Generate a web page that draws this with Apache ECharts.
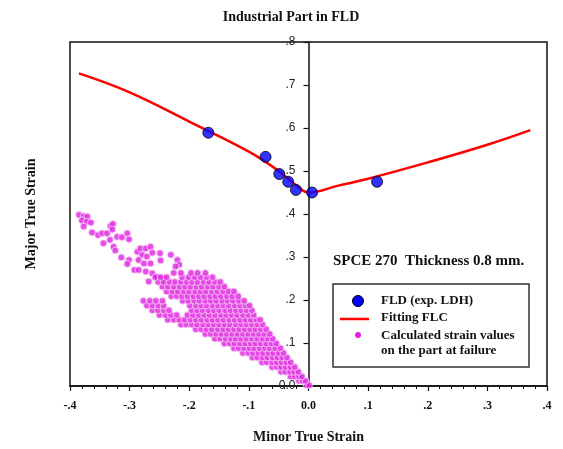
<!DOCTYPE html>
<html>
<head>
<meta charset="utf-8">
<script src="https://cdn.jsdelivr.net/npm/echarts@6/dist/echarts.min.js"></script>
<style>
  html, body { margin: 0; padding: 0; background: #fff; }
  #chart-container { width: 563px; height: 449px; }
</style>
</head>
<body>
<div id="chart-container"></div>
<script>
// ---------- data ----------
var xTicks = ['-.4', '-.3', '-.2', '-.1', '0.0', '.1', '.2', '.3', '.4'];
var yTicks = ['0.0', '.1', '.2', '.3', '.4', '.5', '.6', '.7', '.8'];

// FLD (exp. LDH) points
var ldhMinor = [-0.168, -0.072, -0.049, -0.034, -0.021, 0.006, 0.115];
var ldhMajor = [0.589, 0.533, 0.493, 0.475, 0.456, 0.450, 0.475];

// Fitting FLC curve
var flcMinor = [-0.385, -0.300, -0.200, -0.100, -0.050, -0.020, 0.000, 0.050, 0.100, 0.200, 0.300, 0.372];
var flcMajor = [0.727, 0.683, 0.615, 0.545, 0.500, 0.466, 0.450, 0.466, 0.482, 0.520, 0.561, 0.595];

// calculated strain values: sparse upper-left tail [minor, major]
var cloudTail = [
    [-0.385, 0.398], [-0.377, 0.395], [-0.371, 0.394], [-0.380, 0.385], [-0.372, 0.382],
    [-0.365, 0.380], [-0.377, 0.371], [-0.363, 0.357], [-0.353, 0.351], [-0.346, 0.355],
    [-0.338, 0.355], [-0.332, 0.372], [-0.328, 0.377], [-0.329, 0.364], [-0.344, 0.332],
    [-0.333, 0.340], [-0.321, 0.347], [-0.313, 0.346], [-0.304, 0.355], [-0.301, 0.341],
    [-0.327, 0.324], [-0.324, 0.315], [-0.314, 0.299], [-0.301, 0.293], [-0.292, 0.270],
    [-0.304, 0.284], [-0.287, 0.312], [-0.282, 0.320], [-0.273, 0.320], [-0.265, 0.324],
    [-0.279, 0.305], [-0.271, 0.301], [-0.262, 0.310], [-0.285, 0.293], [-0.276, 0.285],
    [-0.265, 0.285], [-0.248, 0.292], [-0.249, 0.309], [-0.231, 0.305], [-0.220, 0.293],
    [-0.217, 0.282], [-0.223, 0.278], [-0.285, 0.270], [-0.273, 0.266], [-0.262, 0.262],
    [-0.254, 0.254], [-0.243, 0.250], [-0.268, 0.243]
];

// calculated strain values: dense body, one row per major strain level
var cloudRows = [
    [0.002, [-0.003, 0.001]],
    [0.012, [-0.016, -0.010, -0.005]],
    [0.022, [-0.030, -0.023, -0.016, -0.011]],
    [0.033, [-0.046, -0.039, -0.031, -0.024, -0.017]],
    [0.044, [-0.061, -0.053, -0.046, -0.038, -0.030, -0.023]],
    [0.055, [-0.078, -0.070, -0.061, -0.053, -0.045, -0.037, -0.030]],
    [0.066, [-0.094, -0.086, -0.077, -0.069, -0.060, -0.052, -0.044, -0.036]],
    [0.077, [-0.110, -0.101, -0.093, -0.084, -0.076, -0.067, -0.059, -0.050, -0.042]],
    [0.088, [-0.125, -0.117, -0.108, -0.099, -0.091, -0.082, -0.073, -0.065, -0.056, -0.047]],
    [0.099, [-0.141, -0.132, -0.124, -0.115, -0.106, -0.097, -0.089, -0.080, -0.071, -0.062, -0.054]],
    [0.110, [-0.157, -0.148, -0.139, -0.130, -0.122, -0.113, -0.104, -0.095, -0.086, -0.077, -0.068, -0.060]],
    [0.121, [-0.173, -0.164, -0.155, -0.146, -0.137, -0.128, -0.119, -0.110, -0.101, -0.092, -0.083, -0.074, -0.065]],
    [0.132, [-0.189, -0.180, -0.171, -0.162, -0.152, -0.143, -0.134, -0.125, -0.116, -0.107, -0.098, -0.089, -0.080, -0.071]],
    [0.143, [-0.214, -0.205, -0.196, -0.187, -0.177, -0.168, -0.159, -0.150, -0.141, -0.132, -0.122, -0.113, -0.104, -0.095, -0.086, -0.077]],
    [0.154, [-0.236, -0.226, -0.217, -0.208, -0.198, -0.189, -0.180, -0.170, -0.161, -0.152, -0.143, -0.133, -0.124, -0.115, -0.106, -0.097, -0.088, -0.081]],
    [0.165, [-0.250, -0.240, -0.231, -0.221, -0.203, -0.194, -0.184, -0.175, -0.166, -0.157, -0.147, -0.138, -0.129, -0.120, -0.110, -0.101, -0.092]],
    [0.176, [-0.262, -0.253, -0.243, -0.234, -0.196, -0.187, -0.178, -0.168, -0.159, -0.150, -0.140, -0.131, -0.122, -0.113, -0.104, -0.095]],
    [0.187, [-0.271, -0.262, -0.252, -0.243, -0.199, -0.189, -0.180, -0.171, -0.161, -0.152, -0.143, -0.134, -0.124, -0.115, -0.106, -0.099]],
    [0.198, [-0.277, -0.266, -0.256, -0.245, -0.211, -0.202, -0.192, -0.183, -0.173, -0.164, -0.155, -0.145, -0.136, -0.127, -0.117, -0.108]],
    [0.209, [-0.230, -0.221, -0.212, -0.203, -0.193, -0.184, -0.175, -0.165, -0.156, -0.147, -0.137, -0.128, -0.118]],
    [0.220, [-0.238, -0.228, -0.219, -0.209, -0.200, -0.190, -0.181, -0.172, -0.162, -0.153, -0.143, -0.134, -0.125]],
    [0.231, [-0.245, -0.236, -0.226, -0.216, -0.207, -0.198, -0.188, -0.179, -0.169, -0.160, -0.150, -0.141]],
    [0.242, [-0.252, -0.243, -0.233, -0.224, -0.214, -0.204, -0.195, -0.186, -0.176, -0.167, -0.157, -0.148]],
    [0.253, [-0.257, -0.248, -0.238, -0.212, -0.201, -0.191, -0.181, -0.171, -0.161]],
    [0.263, [-0.226, -0.214, -0.197, -0.186, -0.173]]
];

// ---------- build series data ----------
var ldhData = ldhMinor.map(function (x, i) { return [x, ldhMajor[i]]; });
var flcData = flcMinor.map(function (x, i) { return [x, flcMajor[i]]; });
var cloudData = cloudTail.slice();
cloudRows.forEach(function (row) {
    row[1].forEach(function (x) { cloudData.push([x, row[0]]); });
});

var serif = 'Liberation Serif';
function tickText(list, min) {
    return function (v) { return list[Math.round((v - min) * 10)]; };
}

var chart = echarts.init(document.getElementById('chart-container'));
var options = {
    animation: false,
    backgroundColor: '#fff',
    title: {
        text: 'Industrial Part in FLD',
        left: 286, top: 5, textAlign: 'center',
        textStyle: { fontFamily: serif, fontWeight: 'bold', fontSize: 14, color: '#111' }
    },
    grid: {
        left: 70, right: 16, top: 42, bottom: 62,
        show: true, borderColor: '#111', borderWidth: 1.5, backgroundColor: 'transparent'
    },
    xAxis: {
        type: 'value', min: -0.4, max: 0.4, interval: 0.1,
        name: 'Minor True Strain', nameLocation: 'middle', nameGap: 44,
        nameTextStyle: { fontFamily: serif, fontWeight: 'bold', fontSize: 14, color: '#111' },
        axisLine: { onZero: false, lineStyle: { color: '#111', width: 1.5 } },
        axisTick: { length: 5, lineStyle: { color: '#111', width: 1.2 } },
        minorTick: { show: true, splitNumber: 5, length: 3, lineStyle: { color: '#111', width: 1 } },
        splitLine: { show: false },
        axisLabel: {
            formatter: tickText(xTicks, -0.4), margin: 14,
            fontFamily: serif, fontWeight: 'bold', fontSize: 12, color: '#111'
        }
    },
    yAxis: {
        type: 'value', min: 0, max: 0.8, interval: 0.1,
        position: 'left', offset: -238.5, // y axis sits on minor strain = 0
        axisLine: { onZero: false, lineStyle: { color: '#111', width: 1.5 } },
        axisTick: { length: 5, lineStyle: { color: '#111', width: 1.2 } },
        splitLine: { show: false },
        axisLabel: {
            formatter: tickText(yTicks, 0), margin: 13,
            fontFamily: 'Liberation Sans', fontSize: 12, color: '#222'
        }
    },
    graphic: [
        {
            type: 'text', x: 31, y: 214, rotation: Math.PI / 2,
            style: {
                text: 'Major True Strain', align: 'center', verticalAlign: 'middle',
                font: 'bold 14px "Liberation Serif"', fill: '#111'
            }
        },
        {
            type: 'text', x: 333, y: 261,
            style: {
                text: 'SPCE 270  Thickness 0.8 mm.', verticalAlign: 'middle',
                font: 'bold 15px "Liberation Serif"', fill: '#111'
            }
        },
        {
            type: 'rect', shape: { x: 333, y: 284, width: 196, height: 83 },
            style: { fill: '#fff', stroke: '#333', lineWidth: 1.5 }, z: 10
        },
        {
            type: 'circle', shape: { cx: 358, cy: 301, r: 5.5 },
            style: { fill: '#0000ff', stroke: '#000', lineWidth: 1 }, z: 11
        },
        {
            type: 'line', shape: { x1: 340, y1: 319, x2: 369, y2: 319 },
            style: { stroke: '#ff0000', lineWidth: 2.5 }, z: 11
        },
        {
            type: 'circle', shape: { cx: 358, cy: 335, r: 3 },
            style: { fill: '#e020e0' }, z: 11
        },
        {
            type: 'text', x: 381, y: 301, z: 11,
            style: { text: 'FLD (exp. LDH)', verticalAlign: 'middle', font: 'bold 13px "Liberation Serif"', fill: '#111' }
        },
        {
            type: 'text', x: 381, y: 318, z: 11,
            style: { text: 'Fitting FLC', verticalAlign: 'middle', font: 'bold 13px "Liberation Serif"', fill: '#111' }
        },
        {
            type: 'text', x: 381, y: 336, z: 11,
            style: { text: 'Calculated strain values', verticalAlign: 'middle', font: 'bold 13px "Liberation Serif"', fill: '#111' }
        },
        {
            type: 'text', x: 381, y: 351, z: 11,
            style: { text: 'on the part at failure', verticalAlign: 'middle', font: 'bold 13px "Liberation Serif"', fill: '#111' }
        }
    ],
    series: [
        {
            name: 'Calculated strain values on the part at failure',
            type: 'scatter',
            data: cloudData,
            symbolSize: 6.5,
            itemStyle: { color: '#e020e0', borderColor: '#f4c4f4', borderWidth: 1.2 },
            z: 2
        },
        {
            name: 'Fitting FLC',
            type: 'line',
            data: flcData,
            smooth: 0.4,
            showSymbol: false,
            lineStyle: { color: '#ff0000', width: 2.5 },
            z: 3
        },
        {
            name: 'FLD (exp. LDH)',
            type: 'scatter',
            data: ldhData,
            symbolSize: 11,
            itemStyle: { color: '#0000ff', borderColor: '#000', borderWidth: 1 },
            z: 4
        }
    ]
};
chart.setOption(options);
</script>
</body>
</html>
